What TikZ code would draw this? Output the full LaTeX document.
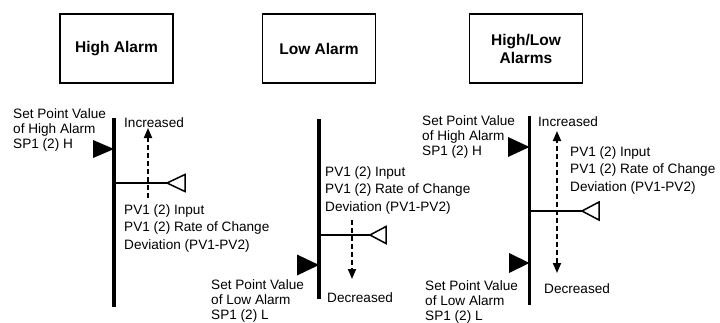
\documentclass[tikz,border=0pt]{standalone}
\usepackage{fontspec}
\setmainfont{Liberation Sans}
\usetikzlibrary{arrows.meta}
\begin{document}
\begin{tikzpicture}[x=1pt,y=-1pt,
  titlebox/.style={draw,line width=1.8pt,minimum width=113pt,minimum height=69pt,
    align=center,inner sep=0pt,font=\fontsize{15.5}{18}\selectfont\bfseries},
  lbl/.style={anchor=north west,inner sep=0pt,align=left,font=\fontsize{13.6}{15.2}\selectfont},
  pvlbl/.style={anchor=north west,inner sep=0pt,align=left,font=\fontsize{13.6}{17.5}\selectfont},
  axisline/.style={line width=3.6pt},
  pvline/.style={line width=1.5pt},
  opentri/.style={line width=1.5pt,line join=miter},
  sptri/.style={fill=black},
  dasharrow/.style={line width=1.8pt,dash pattern=on 5pt off 3pt,-{Triangle[length=10pt,width=8pt]}},
  dashboth/.style={line width=1.8pt,dash pattern=on 5pt off 3pt,{Triangle[length=10pt,width=8pt]}-{Triangle[length=10pt,width=8pt]}}
]
\useasboundingbox (0,0) rectangle (720,322);

% ---------- Panel 1: High Alarm ----------
\node[titlebox] (box1) at (116.5,48.5) {High Alarm};
\coordinate (v1t) at (114,118);
\coordinate (v1b) at (114,307);
\draw[axisline] (v1t) -- (v1b);
\fill[sptri] (114,149) -- (93,140) -- (93,158) -- cycle;
\coordinate (h1s) at (114,183);
\coordinate (h1e) at (167,183);
\draw[pvline] (h1s) -- (h1e);
\draw[opentri] (h1e) -- (185,174.5) -- (185,191.5) -- cycle;
\coordinate (d1s) at (148,198);
\coordinate (d1e) at (148,128);
\draw[dasharrow] (d1s) -- (d1e);
\node[lbl] (sp1h) at (13,108) {Set Point Value\\of High Alarm\\SP1 (2) H};
\node[lbl] (inc1) at (124,117) {Increased};
\node[pvlbl] (pv1) at (124,204) {PV1 (2) Input\\PV1 (2) Rate of Change\\Deviation (PV1-PV2)};

% ---------- Panel 2: Low Alarm ----------
\node[titlebox] (box2) at (319,48.5) {Low Alarm};
\coordinate (v2t) at (319,119);
\coordinate (v2b) at (319,299);
\draw[axisline] (v2t) -- (v2b);
\fill[sptri] (319,265) -- (297,254.5) -- (297,275.5) -- cycle;
\coordinate (h2s) at (319,235);
\coordinate (h2e) at (370,235);
\draw[pvline] (h2s) -- (h2e);
\draw[opentri] (h2e) -- (386,226.5) -- (386,243.5) -- cycle;
\coordinate (d2s) at (352,220);
\coordinate (d2e) at (352,279);
\draw[dasharrow] (d2s) -- (d2e);
\node[pvlbl] (pv2) at (325,166) {PV1 (2) Input\\PV1 (2) Rate of Change\\Deviation (PV1-PV2)};
\node[lbl] (dec2) at (327,292) {Decreased};
\node[lbl] (sp2l) at (211,279) {Set Point Value\\of Low Alarm\\SP1 (2) L};

% ---------- Panel 3: High/Low Alarms ----------
\node[titlebox] (box3) at (526,48.5) {High/Low\\Alarms};
\coordinate (v3t) at (529.5,116);
\coordinate (v3b) at (529.5,305);
\draw[axisline] (v3t) -- (v3b);
\fill[sptri] (529.5,147) -- (508,137) -- (508,157) -- cycle;
\fill[sptri] (529.5,263) -- (509,253) -- (509,273) -- cycle;
\coordinate (h3s) at (529.5,211);
\coordinate (h3e) at (582,211);
\draw[pvline] (h3s) -- (h3e);
\draw[opentri] (h3e) -- (599,202) -- (599,220) -- cycle;
\coordinate (d3t) at (557,131);
\coordinate (d3b) at (557,273);
\draw[dashboth] (d3b) -- (d3t);
\node[lbl] (sp3h) at (422,115) {Set Point Value\\of High Alarm\\SP1 (2) H};
\node[lbl] (inc3) at (538,116) {Increased};
\node[pvlbl] (pv3) at (570,146) {PV1 (2) Input\\PV1 (2) Rate of Change\\Deviation (PV1-PV2)};
\node[lbl] (dec3) at (544,283) {Decreased};
\node[lbl] (sp3l) at (425,280) {Set Point Value\\of Low Alarm\\SP1 (2) L};
\end{tikzpicture}
\end{document}
